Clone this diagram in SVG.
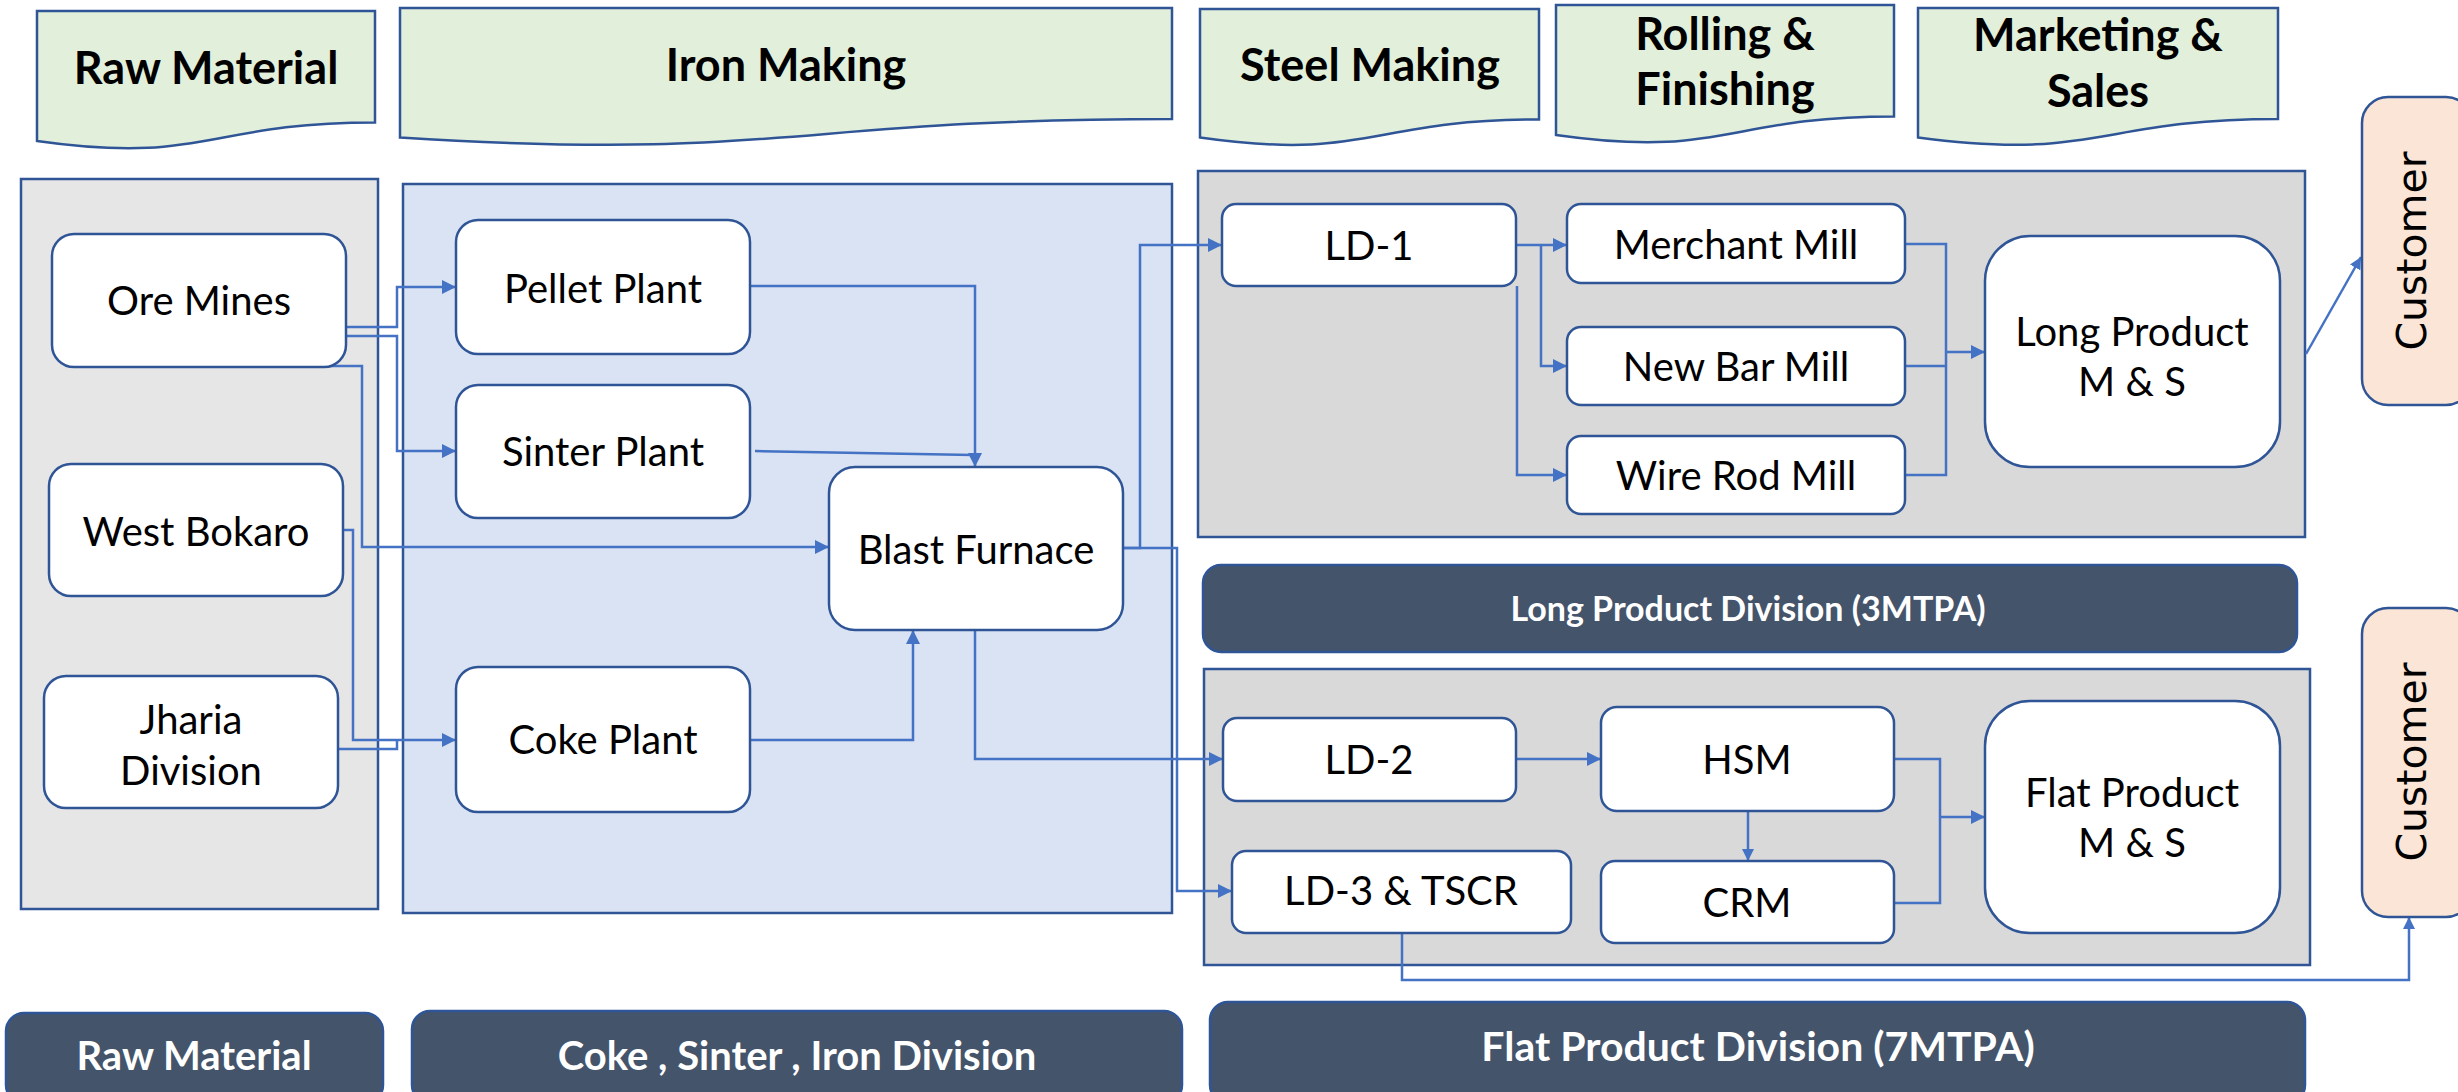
<svg xmlns="http://www.w3.org/2000/svg" width="2458" height="1092" viewBox="0 0 2458 1092">
  <defs>
    <marker id="arrow" markerUnits="userSpaceOnUse" markerWidth="14" markerHeight="14" refX="14" refY="7" orient="auto">
      <path d="M0,0 L14,7 L0,14 Z" fill="#4472C4"/>
    </marker>
    <marker id="arrow-sm" markerUnits="userSpaceOnUse" markerWidth="12" markerHeight="12" refX="12" refY="6" orient="auto">
      <path d="M0,0 L12,6 L0,12 Z" fill="#4472C4"/>
    </marker>
  </defs>
  <style>
    .hdr { fill: #E2EFDA; stroke: #2F5597; stroke-width: 2.5; }
    .hdr-t { font-family: Lato, "Liberation Sans", sans-serif; font-weight: bold; font-size: 45px; fill: #000; text-anchor: middle; }
    .panel { stroke: #2F5597; stroke-width: 2.5; }
    .node { fill: #FFFFFF; stroke: #2F5597; stroke-width: 2.5; }
    .node-t { font-family: Lato, "Liberation Sans", sans-serif; font-size: 40px; fill: #000; text-anchor: middle; }
    .bar { fill: #44546A; stroke: #2F5597; stroke-width: 2.5; }
    .bar-t { font-family: Lato, "Liberation Sans", sans-serif; font-weight: bold; fill: #FFFFFF; text-anchor: middle; }
    .cust { fill: #FBE5D6; stroke: #2F5597; stroke-width: 2.5; }
    .cust-t { font-family: "DejaVu Sans", sans-serif; font-size: 41px; fill: #000; text-anchor: middle; }
    .link { fill: none; stroke: #4472C4; stroke-width: 2.5; }
  </style>

  <!-- stage headers (document shapes) -->
  <g id="hdr-raw">
    <path class="hdr" d="M37,11 H375 V122.5 C206,122.5 206,165 37,141 Z"/>
    <text class="hdr-t" x="206" y="84">Raw Material</text>
  </g>
  <g id="hdr-iron">
    <path class="hdr" d="M400,8 H1172 V119 C786,119 786,161.5 400,137.5 Z"/>
    <text class="hdr-t" x="786" y="81">Iron Making</text>
  </g>
  <g id="hdr-steel">
    <path class="hdr" d="M1200,9 H1539 V119.5 C1369,119.5 1369,161.5 1200,137.5 Z"/>
    <text class="hdr-t" x="1370" y="81">Steel Making</text>
  </g>
  <g id="hdr-rolling">
    <path class="hdr" d="M1556,5 H1894 V116.5 C1725,116.5 1725,159 1556,135 Z"/>
    <text class="hdr-t" x="1725" y="50">Rolling &amp;</text>
    <text class="hdr-t" x="1725" y="105">Finishing</text>
  </g>
  <g id="hdr-marketing">
    <path class="hdr" d="M1918,8 H2278 V119 C2098,119 2098,161.5 1918,137.5 Z"/>
    <text class="hdr-t" x="2098" y="51">Marketing &amp;</text>
    <text class="hdr-t" x="2098" y="107">Sales</text>
  </g>

  <!-- background panels -->
  <g id="panel-raw"><rect class="panel" x="21" y="179" width="357" height="730" fill="#E7E6E6"/></g>
  <g id="panel-iron"><rect class="panel" x="403" y="184" width="769" height="729" fill="#DAE3F3"/></g>
  <g id="panel-long"><rect class="panel" x="1198" y="171" width="1107" height="366" fill="#D9D9D9"/></g>
  <g id="panel-flat"><rect class="panel" x="1204" y="669" width="1106" height="296" fill="#D9D9D9"/></g>

  <!-- connectors -->
  <g id="connectors">
    <path class="link" d="M338,327 H397 V287 H456" marker-end="url(#arrow)"/>
    <path class="link" d="M338,336 H397 V451 H456" marker-end="url(#arrow)"/>
    <path class="link" d="M207,366 H362 V547 H829" marker-end="url(#arrow)"/>
    <path class="link" d="M343,530 H353 V740 H456" marker-end="url(#arrow)"/>
    <path class="link" d="M338,749 H397 V740"/>
    <path class="link" d="M750,286 H975 V467" marker-end="url(#arrow)"/>
    <path class="link" d="M755,451 L973,455"/>
    <path class="link" d="M750,740 H913 V630" marker-end="url(#arrow)"/>
    <path class="link" d="M1123,548 H1140 V245 H1222" marker-end="url(#arrow)"/>
    <path class="link" d="M1123,548 H1177 V891 H1232" marker-end="url(#arrow)"/>
    <path class="link" d="M975,630 V759 H1223" marker-end="url(#arrow)"/>
    <path class="link" d="M1516,245 H1567" marker-end="url(#arrow)"/>
    <path class="link" d="M1541,245 V366 H1567" marker-end="url(#arrow)"/>
    <path class="link" d="M1517,286 V475 H1567" marker-end="url(#arrow)"/>
    <path class="link" d="M1905,244 H1946 V475 H1905"/>
    <path class="link" d="M1905,366 H1946"/>
    <path class="link" d="M1946,352 H1985" marker-end="url(#arrow)"/>
    <path class="link" d="M2306,354 L2361,257" marker-end="url(#arrow-sm)"/>
    <path class="link" d="M1516,759 H1601" marker-end="url(#arrow)"/>
    <path class="link" d="M1748,811 V861" marker-end="url(#arrow-sm)"/>
    <path class="link" d="M1894,759 H1940 V903 H1894"/>
    <path class="link" d="M1940,817 H1985" marker-end="url(#arrow)"/>
    <path class="link" d="M1402,933 V980 H2409 V917" marker-end="url(#arrow-sm)"/>
  </g>

  <!-- raw material nodes -->
  <g id="ore-mines">
    <rect class="node" x="52" y="234" width="294" height="133" rx="22"/>
    <text class="node-t" x="199" y="315">Ore Mines</text>
  </g>
  <g id="west-bokaro">
    <rect class="node" x="49" y="464" width="294" height="132" rx="22"/>
    <text class="node-t" x="196" y="546">West Bokaro</text>
  </g>
  <g id="jharia">
    <rect class="node" x="44" y="676" width="294" height="132" rx="22"/>
    <text class="node-t" x="191" y="734">Jharia</text>
    <text class="node-t" x="191" y="785">Division</text>
  </g>

  <!-- iron making nodes -->
  <g id="pellet-plant">
    <rect class="node" x="456" y="220" width="294" height="134" rx="22"/>
    <text class="node-t" x="603" y="303">Pellet Plant</text>
  </g>
  <g id="sinter-plant">
    <rect class="node" x="456" y="385" width="294" height="133" rx="22"/>
    <text class="node-t" x="603" y="466">Sinter Plant</text>
  </g>
  <g id="coke-plant">
    <rect class="node" x="456" y="667" width="294" height="145" rx="22"/>
    <text class="node-t" x="603" y="754">Coke Plant</text>
  </g>
  <g id="blast-furnace">
    <rect class="node" x="829" y="467" width="294" height="163" rx="26"/>
    <text class="node-t" x="976" y="564">Blast Furnace</text>
  </g>

  <!-- long product line -->
  <g id="ld1">
    <rect class="node" x="1222" y="204" width="294" height="82" rx="14"/>
    <text class="node-t" x="1369" y="260">LD-1</text>
  </g>
  <g id="merchant-mill">
    <rect class="node" x="1567" y="204" width="338" height="79" rx="14"/>
    <text class="node-t" x="1736" y="259">Merchant Mill</text>
  </g>
  <g id="new-bar-mill">
    <rect class="node" x="1567" y="327" width="338" height="78" rx="14"/>
    <text class="node-t" x="1736" y="381">New Bar Mill</text>
  </g>
  <g id="wire-rod-mill">
    <rect class="node" x="1567" y="436" width="338" height="78" rx="14"/>
    <text class="node-t" x="1736" y="490">Wire Rod Mill</text>
  </g>
  <g id="long-ms">
    <rect class="node" x="1985" y="236" width="295" height="231" rx="45"/>
    <text class="node-t" x="2132" y="346">Long Product</text>
    <text class="node-t" x="2132" y="396">M &amp; S</text>
  </g>

  <!-- flat product line -->
  <g id="ld2">
    <rect class="node" x="1223" y="718" width="293" height="83" rx="14"/>
    <text class="node-t" x="1369" y="774">LD-2</text>
  </g>
  <g id="ld3-tscr">
    <rect class="node" x="1232" y="851" width="339" height="82" rx="14"/>
    <text class="node-t" x="1401" y="905">LD-3 &amp; TSCR</text>
  </g>
  <g id="hsm">
    <rect class="node" x="1601" y="707" width="293" height="104" rx="16"/>
    <text class="node-t" x="1747" y="774">HSM</text>
  </g>
  <g id="crm">
    <rect class="node" x="1601" y="861" width="293" height="82" rx="14"/>
    <text class="node-t" x="1747" y="917">CRM</text>
  </g>
  <g id="flat-ms">
    <rect class="node" x="1985" y="701" width="295" height="232" rx="45"/>
    <text class="node-t" x="2132" y="807">Flat Product</text>
    <text class="node-t" x="2132" y="857">M &amp; S</text>
  </g>

  <!-- customers -->
  <g id="customer-long">
    <rect class="cust" x="2362" y="97" width="110" height="308" rx="26"/>
    <text class="cust-t" transform="translate(2426,251) rotate(-90)">Customer</text>
  </g>
  <g id="customer-flat">
    <rect class="cust" x="2362" y="608" width="110" height="309" rx="26"/>
    <text class="cust-t" transform="translate(2426,762) rotate(-90)">Customer</text>
  </g>

  <!-- division bars -->
  <g id="div-long">
    <rect class="bar" x="1203" y="565" width="1094" height="87" rx="18"/>
    <text class="bar-t" x="1748" y="621" font-size="34">Long Product Division (3MTPA)</text>
  </g>
  <g id="div-raw">
    <rect class="bar" x="6" y="1013" width="377" height="90" rx="18"/>
    <text class="bar-t" x="194" y="1070" font-size="40">Raw Material</text>
  </g>
  <g id="div-iron">
    <rect class="bar" x="412" y="1011" width="770" height="92" rx="18"/>
    <text class="bar-t" x="797" y="1070" font-size="40">Coke , Sinter , Iron Division</text>
  </g>
  <g id="div-flat">
    <rect class="bar" x="1210" y="1002" width="1095" height="101" rx="18"/>
    <text class="bar-t" x="1758" y="1061" font-size="41">Flat Product Division (7MTPA)</text>
  </g>
</svg>
